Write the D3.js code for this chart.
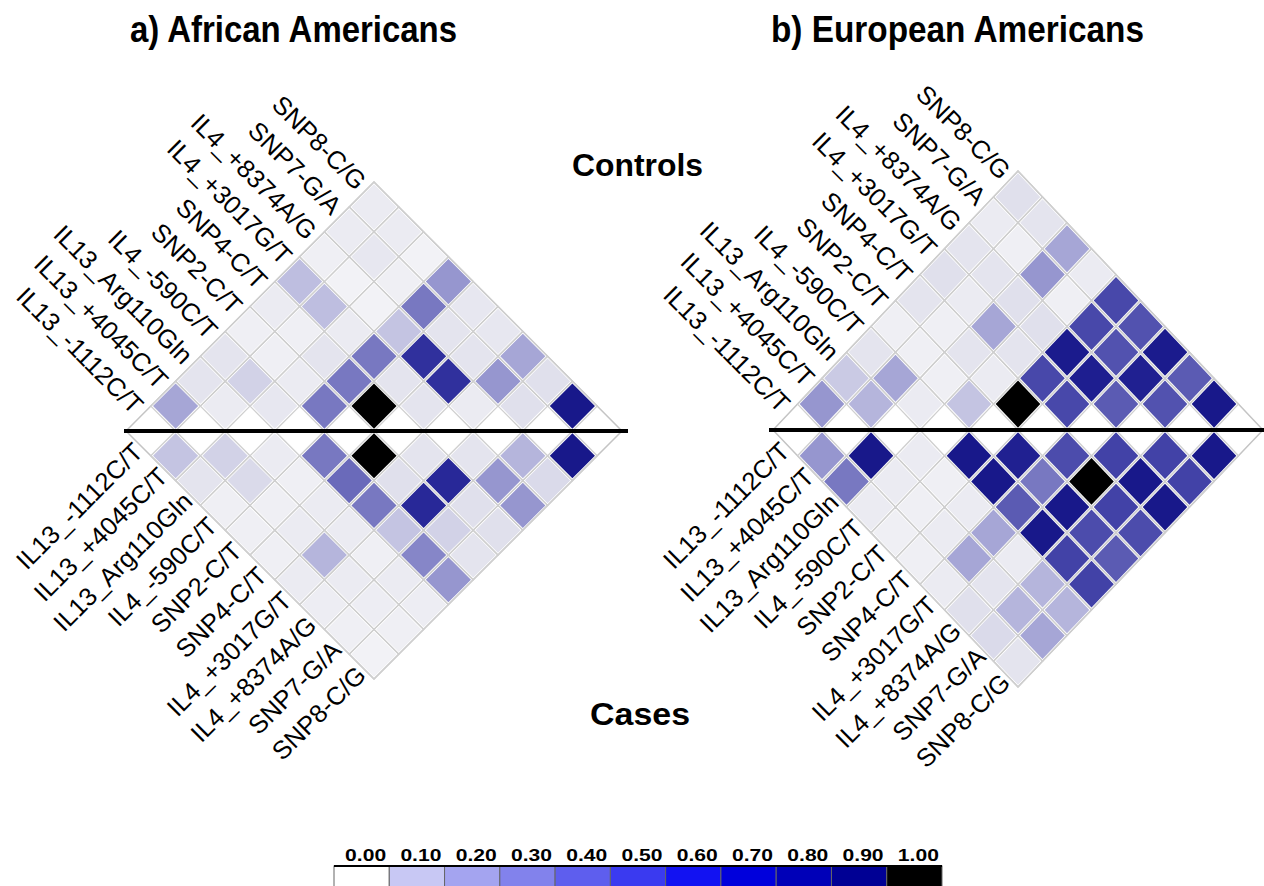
<!DOCTYPE html>
<html>
<head>
<meta charset="utf-8">
<script src="https://cdn.jsdelivr.net/npm/d3@7"></script>
<style>
  body { margin: 0; background: #fff; }
  svg { display: block; font-family: "Liberation Sans", Arial, sans-serif; }
</style>
</head>
<body>
<div id="chart"></div>
<script>
// markers, left-to-right along the base of each triangle
const markers = ['IL13_-1112C/T', 'IL13_+4045C/T', 'IL13_Arg110Gln', 'IL4_-590C/T', 'SNP2-C/T',
  'SNP4-C/T', 'IL4_+3017G/T', 'IL4_+8374A/G', 'SNP7-G/A', 'SNP8-C/G'];

// LD values, one row per marker distance (row d holds pairs (i, i+d))
const aaControls = [
  [0.30, 0.05, 0.07, 0.45, 1.00, 0.08, 0.05, 0.10, 0.90],
  [0.08, 0.15, 0.05, 0.45, 0.08, 0.75, 0.35, 0.10],
  [0.08, 0.03, 0.08, 0.45, 0.75, 0.08, 0.30],
  [0.03, 0.03, 0.05, 0.20, 0.08, 0.07],
  [0.05, 0.22, 0.02, 0.45, 0.07],
  [0.22, 0.02, 0.03, 0.35],
  [0.03, 0.07, 0.02],
  [0.05, 0.05],
  [0.05]
];
const aaCases = [
  [0.20, 0.15, 0.05, 0.45, 1.00, 0.08, 0.08, 0.25, 0.90],
  [0.08, 0.12, 0.03, 0.50, 0.10, 0.80, 0.35, 0.12],
  [0.03, 0.03, 0.05, 0.45, 0.80, 0.10, 0.35],
  [0.03, 0.05, 0.05, 0.20, 0.15, 0.10],
  [0.03, 0.25, 0.03, 0.40, 0.08],
  [0.05, 0.05, 0.05, 0.35],
  [0.04, 0.04, 0.04],
  [0.03, 0.03],
  [0.02]
];
const eaControls = [
  [0.35, 0.25, 0.05, 0.20, 1.00, 0.62, 0.55, 0.58, 0.90],
  [0.18, 0.30, 0.03, 0.05, 0.62, 0.86, 0.85, 0.55],
  [0.08, 0.03, 0.08, 0.08, 0.88, 0.58, 0.88],
  [0.03, 0.03, 0.30, 0.10, 0.62, 0.58],
  [0.08, 0.05, 0.10, 0.03, 0.62],
  [0.10, 0.08, 0.35, 0.05],
  [0.08, 0.03, 0.30],
  [0.05, 0.08],
  [0.10]
];
const eaCases = [
  [0.35, 0.90, 0.05, 0.90, 0.85, 0.60, 0.65, 0.65, 0.90],
  [0.45, 0.05, 0.03, 0.90, 0.45, 1.00, 0.90, 0.65],
  [0.05, 0.03, 0.05, 0.55, 0.90, 0.65, 0.90],
  [0.03, 0.05, 0.30, 0.90, 0.60, 0.60],
  [0.03, 0.30, 0.05, 0.65, 0.55],
  [0.05, 0.08, 0.25, 0.65],
  [0.10, 0.25, 0.25],
  [0.12, 0.30],
  [0.08]
];

// colour key
const legendTicks = ['0.00', '0.10', '0.20', '0.30', '0.40', '0.50', '0.60', '0.70', '0.80', '0.90', '1.00'];
const legendColors = ['#ffffff', '#c8c8f4', '#a4a4f0', '#8282ec', '#5e5eee', '#3a3af0', '#1212f2',
  '#0000dc', '#0000b8', '#000094', '#000000'];
// the cells themselves come out duller than the key
const cellStops = [0, 0.1, 0.2, 0.3, 0.4, 0.5, 0.6, 0.7, 0.8, 0.9, 1.0];
const cellColors = ['#f6f6f8', '#e0e0ec', '#c4c4e2', '#a6a6d6', '#8686c8', '#6a6aba', '#4c4cac',
  '#3838a2', '#282898', '#18188a', '#000000'];

const W = 1264, H = 886;
const svg = d3.select('#chart').append('svg').attr('width', W).attr('height', H);
const cellColor = d3.scaleLinear().domain(cellStops).range(cellColors).clamp(true);

const panels = [
  {title: 'a) African Americans', titleX: 130, titleW: 327, left: 126, right: 622, base: 431,
   top: 182, bottom: 679, lineL: 124, lineR: 628, upper: aaControls, lower: aaCases},
  {title: 'b) European Americans', titleX: 771, titleW: 373, left: 773, right: 1263, base: 430,
   top: 171, bottom: 687, lineL: 769, lineR: 1264, upper: eaControls, lower: eaCases}
];

function diamond(x, y, c, d, s) {
  // c: horizontal centre in marker units, d: vertical centre in half-cell units
  const cx = x(c), cy = y(d);
  const pts = [[x(c - 0.5), y(d)], [x(c), y(d + 1)], [x(c + 0.5), y(d)], [x(c), y(d - 1)]];
  return pts.map(p => [cx + (p[0] - cx) * s, cy + (p[1] - cy) * s].join(',')).join(' ');
}

function drawTriangle(parent, p, rows, y) {
  const n = markers.length;
  const x = d3.scaleLinear().domain([0, n]).range([p.left, p.right]);
  const g = parent.append('g');
  const cells = [];
  rows.forEach((row, r) => row.forEach((v, i) => cells.push({i: i, d: r + 1, v: v})));

  g.append('polygon')
    .attr('points', [[x(0), y(0)], [x(n / 2), y(n)], [x(n), y(0)]].map(q => q.join(',')).join(' '))
    .attr('fill', '#fff').attr('stroke', '#c4c4c4').attr('stroke-width', 1.5);

  g.selectAll('.grid').data(cells).enter().append('polygon')
    .attr('class', 'grid')
    .attr('points', c => diamond(x, y, c.i + (c.d + 1) / 2, c.d, 1))
    .attr('fill', 'none').attr('stroke', '#cfcfcf').attr('stroke-width', 1.3);

  g.selectAll('.cell').data(cells).enter().append('polygon')
    .attr('class', 'cell')
    .attr('points', c => diamond(x, y, c.i + (c.d + 1) / 2, c.d, 0.91))
    .attr('fill', c => cellColor(c.v));
  return x;
}

panels.forEach(p => {
  const n = markers.length;
  const g = svg.append('g');
  const yUp = d3.scaleLinear().domain([0, n]).range([p.base, p.top]);
  const yLow = d3.scaleLinear().domain([0, n]).range([p.base, p.bottom]);

  const x = drawTriangle(g, p, p.upper, yUp);
  drawTriangle(g, p, p.lower, yLow);

  g.append('line')
    .attr('x1', p.lineL).attr('x2', p.lineR).attr('y1', p.base).attr('y2', p.base)
    .attr('stroke', '#000').attr('stroke-width', 4);

  // marker names along the two left edges
  g.selectAll('.lab-up').data(markers).enter().append('text')
    .attr('class', 'lab-up')
    .attr('transform', (m, k) => `translate(${x((k + 0.5) / 2) - 6},${yUp(k + 0.5) - 3}) rotate(45)`)
    .attr('text-anchor', 'end')
    .attr('font-size', 25.5)
    .text(m => m);

  g.selectAll('.lab-low').data(markers).enter().append('text')
    .attr('class', 'lab-low')
    .attr('transform', (m, k) => `translate(${x((k + 0.5) / 2) - 3},${yLow(k + 0.5) + 1}) rotate(-45)`)
    .attr('text-anchor', 'end')
    .attr('font-size', 25.5)
    .attr('dy', '0.5em')
    .text(m => m);

  svg.append('text')
    .attr('x', p.titleX).attr('y', 42)
    .attr('font-size', 36).attr('font-weight', 'bold')
    .attr('textLength', p.titleW).attr('lengthAdjust', 'spacingAndGlyphs')
    .text(p.title);
});

svg.append('text').attr('x', 572).attr('y', 176)
  .attr('font-size', 32).attr('font-weight', 'bold')
  .attr('textLength', 131).attr('lengthAdjust', 'spacingAndGlyphs')
  .text('Controls');
svg.append('text').attr('x', 590).attr('y', 725)
  .attr('font-size', 32).attr('font-weight', 'bold')
  .attr('textLength', 100).attr('lengthAdjust', 'spacingAndGlyphs')
  .text('Cases');

// colour key
const kx = d3.scaleBand().domain(legendTicks).range([334, 942]);
const key = svg.append('g');
key.selectAll('rect').data(legendTicks).enter().append('rect')
  .attr('x', t => kx(t)).attr('y', 866)
  .attr('width', kx.bandwidth()).attr('height', 24)
  .attr('fill', (t, k) => legendColors[k])
  .attr('stroke', '#666').attr('stroke-width', 1);
key.append('line').attr('x1', 334).attr('x2', 942).attr('y1', 866).attr('y2', 866)
  .attr('stroke', '#000').attr('stroke-width', 2);
key.selectAll('text').data(legendTicks).enter().append('text')
  .attr('x', t => kx(t) + kx.bandwidth() / 2 + 4).attr('y', 861)
  .attr('text-anchor', 'middle')
  .attr('font-size', 17).attr('font-weight', 'bold')
  .attr('textLength', 41).attr('lengthAdjust', 'spacingAndGlyphs')
  .text(t => t);
</script>
</body>
</html>
